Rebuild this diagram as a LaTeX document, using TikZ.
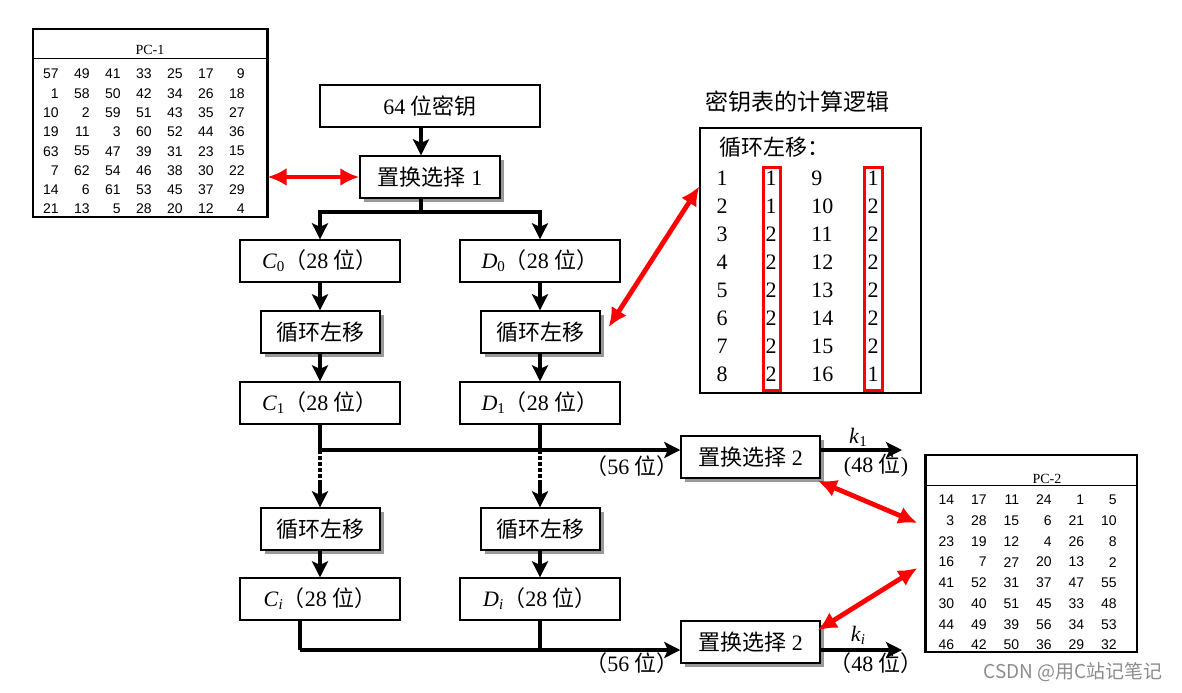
\documentclass[tikz,border=0pt]{standalone}
\usepackage{fontspec}
\setmainfont{Liberation Serif}
\newfontfamily\cjk{Noto Sans CJK SC}
\newfontfamily\tabsans{Liberation Sans}
\usetikzlibrary{arrows.meta,positioning,calc,shadows}
\newcommand{\zh}[1]{{\cjk #1}}
\newcommand{\sym}[2]{\textit{#1}\raisebox{-0.3ex}{\fontsize{7.5}{8}\selectfont #2}}

\begin{document}
\begin{tikzpicture}[x=0.5pt,y=-0.5pt,
  font=\fontsize{11}{13}\selectfont,
  box/.style={draw,line width=0.7pt,fill=white,inner sep=0pt,minimum height=21pt},
  sbox/.style={box,drop shadow={shadow xshift=2.2pt,shadow yshift=-2.2pt,fill=black!40,opacity=1}},
  flow/.style={line width=1.6pt,-{Stealth[length=8pt,width=8pt,inset=1.8pt]}},
  bus/.style={line width=1.6pt},
  link/.style={red,line width=2.4pt,{Latex[length=9.5pt,width=9pt]}-{Latex[length=9.5pt,width=9pt]}},
  tnum/.style={font=\tabsans\fontsize{7}{8}\selectfont,inner sep=0pt,anchor=east},
  snum/.style={font=\fontsize{11}{13}\selectfont,inner sep=0pt}]
\useasboundingbox (0,0) rectangle (1182,692);
% PC-1 table
\node[draw,line width=0.6pt,minimum width=117pt,minimum height=94pt,inner sep=0pt] (pctab1) at (150,123) {};
\draw[line width=0.6pt] ($(pctab1.north west)+(0,30)$) -- ($(pctab1.north east)+(0,30)$);
\draw[line width=1.2pt] (pctab1.north east) -- (pctab1.south east);
\node[font=\fontsize{7}{8}\selectfont] (pcname1) at (150,50) {PC-1};
\foreach \row [count=\r from 0] in {{57,49,41,33,25,17,9},{1,58,50,42,34,26,18},
    {10,2,59,51,43,35,27},{19,11,3,60,52,44,36},{63,55,47,39,31,23,15},
    {7,62,54,46,38,30,22},{14,6,61,53,45,37,29},{21,13,5,28,20,12,4}} {
  \foreach \v [count=\c] in \row {
    \node[tnum] (pa-\r-\c) at ({28+31*\c},{74+19.3*\r}) {\v};
  }
}
% main key path
\node[box,minimum width=110pt] (key) at (430,106) {64 \zh{位密钥}};
\node[sbox,minimum width=70pt] (pcone) at (430,177) {\zh{置换选择} 1};
\node[box,minimum width=80pt] (c0) at (320,261) {\sym{C}{0}\zh{（}28 \zh{位）}};
\node[box,minimum width=80pt] (d0) at (540,261) {\sym{D}{0}\zh{（}28 \zh{位）}};
\node[sbox,minimum width=59.5pt] (rc0) at (320.5,332) {\zh{循环左移}};
\node[sbox,minimum width=59.5pt] (rd0) at (540.5,332) {\zh{循环左移}};
\node[box,minimum width=80pt] (c1) at (320,403) {\sym{C}{1}\zh{（}28 \zh{位）}};
\node[box,minimum width=80pt] (d1) at (540,403) {\sym{D}{1}\zh{（}28 \zh{位）}};
\node[sbox,minimum width=59.5pt] (rci) at (320.5,529) {\zh{循环左移}};
\node[sbox,minimum width=59.5pt] (rdi) at (540.5,529) {\zh{循环左移}};
\node[box,minimum width=80pt] (ci) at (320,599) {\sym{C}{\textit{i}}\zh{（}28 \zh{位）}};
\node[box,minimum width=80pt] (di) at (540,599) {\sym{D}{\textit{i}}\zh{（}28 \zh{位）}};
\node[sbox,minimum width=69.5pt] (pctwoa) at (750.5,457) {\zh{置换选择} 2};
\node[sbox,minimum width=69.5pt] (pctwob) at (750.5,642) {\zh{置换选择} 2};
% connectors
\coordinate (split) at (421,212);
\draw[flow] (key.south -| split) -- (pcone.north -| split);
\draw[bus] (pcone.south -| split) -- (split);
\draw[flow] (split) -| (c0.north);
\draw[flow] (split) -| (d0.north);
\draw[flow] (c0.south) -- (c0.south |- rc0.north);
\draw[flow] (d0.south) -- (d0.south |- rd0.north);
\draw[flow] (rc0.south -| c0) -- (c1.north);
\draw[flow] (rd0.south -| d0) -- (d1.north);
\coordinate (busa) at (320,450);
\draw[bus] (c1.south) -- (busa);
\draw[flow] (busa) -- (busa -| pctwoa.west);
\draw[bus] (d1.south) -- (d1.south |- busa);
\coordinate (gapc) at (320,482);
\coordinate (gapd) at (540,482);
\draw[bus,dash pattern=on 2pt off 1pt] (busa) -- (gapc);
\draw[bus,dash pattern=on 2pt off 1pt] (d1.south |- busa) -- (gapd);
\draw[flow] (gapc) -- (rci.north -| gapc);
\draw[flow] (gapd) -- (rdi.north -| gapd);
\draw[flow] (rci.south -| ci) -- (ci.north);
\draw[flow] (rdi.south -| di) -- (di.north);
\coordinate (busb) at (300,650);
\draw[bus] (ci.south -| busb) -- (busb);
\draw[flow] (busb) -- (busb -| pctwob.west);
\draw[bus] (di.south) -- (di.south |- busb);
\coordinate (outa) at (902,450);
\coordinate (outb) at (902,650);
\draw[flow] (pctwoa.east |- busa) -- (outa);
\draw[flow] (pctwob.east |- busb) -- (outb);
% bit widths
\node (wa) at (632,466) {\zh{（}56 \zh{位）}};
\node (ka) at (858,437) {\sym{k}{1}};
\node (oa) at (876,466) {(48 \zh{位})};
\node (wb) at (632,663) {\zh{（}56 \zh{位）}};
\node (kb) at (858,635) {\sym{k}{\textit{i}}};
\node (ob) at (876,663) {\zh{（}48 \zh{位）}};
% shift schedule
\node[font=\cjk\fontsize{11.5}{13}\selectfont] (schedtitle) at (797,102) {密钥表的计算逻辑};
\node[draw,line width=0.7pt,minimum width=110.5pt,minimum height=132.5pt,inner sep=0pt] (sched) at (810.5,260.5) {};
\node[anchor=west,font=\cjk\fontsize{11}{13}\selectfont] (schedhead) at (712,147) {循环左移：};
\foreach \n/\sa/\sb [count=\r from 0] in {1/1/1,2/1/2,3/2/2,4/2/2,5/2/2,6/2/2,7/2/2,8/2/1} {
  \pgfmathtruncatemacro{\m}{\n+8}
  \node[snum] (sn-\n) at (722,{178+28.1*\r}) {\n};
  \node[snum] (sa-\n) at (771,{178+28.1*\r}) {\sa};
  \node[snum,anchor=west] (sm-\n) at (811,{178+28.1*\r}) {\m};
  \node[snum] (sb-\n) at (873,{178+28.1*\r}) {\sb};
}
\draw[red,line width=1.5pt] (763,167) rectangle (780,390);
\draw[red,line width=1.5pt] (864,167) rectangle (882,390);
% PC-2 table
\node[draw,line width=0.6pt,minimum width=105.5pt,minimum height=98.5pt,inner sep=0pt] (pctab2) at (1031.5,553.5) {};
\draw[line width=0.6pt] ($(pctab2.north west)+(0,31)$) -- ($(pctab2.north east)+(0,31)$);
\draw[line width=1.3pt] (pctab2.north west) -- (pctab2.south west);
\node[font=\fontsize{7}{8}\selectfont] (pcname2) at (1047,479) {PC-2};
\foreach \row [count=\r from 0] in {{14,17,11,24,1,5},{3,28,15,6,21,10},
    {23,19,12,4,26,8},{16,7,27,20,13,2},{41,52,31,37,47,55},
    {30,40,51,45,33,48},{44,49,39,56,34,53},{46,42,50,36,29,32}} {
  \foreach \v [count=\c] in \row {
    \node[tnum] (pb-\r-\c) at ({922+32.5*\c},{500+20.7*\r}) {\v};
  }
}
% table links
\draw[link] (pctab1.east |- pcone.west) -- (pcone.west);
\draw[link] ($(rd0.east)+(8,-5)$) -- ($(sched.north west)!0.222!(sched.south west)$);
\draw[link] ($(pctwoa.south east)+(-3,2)$) -- ($(pctab2.west)+(-8,-30.5)$);
\draw[link] ($(pctwob.north east)+(-3,10)$) -- ($(pctab2.west)+(-8,14.5)$);
\node[font=\cjk\fontsize{9.5}{11}\selectfont,text=black!45] (mark) at (1073,672) {CSDN @用C站记笔记};
\end{tikzpicture}
\end{document}
